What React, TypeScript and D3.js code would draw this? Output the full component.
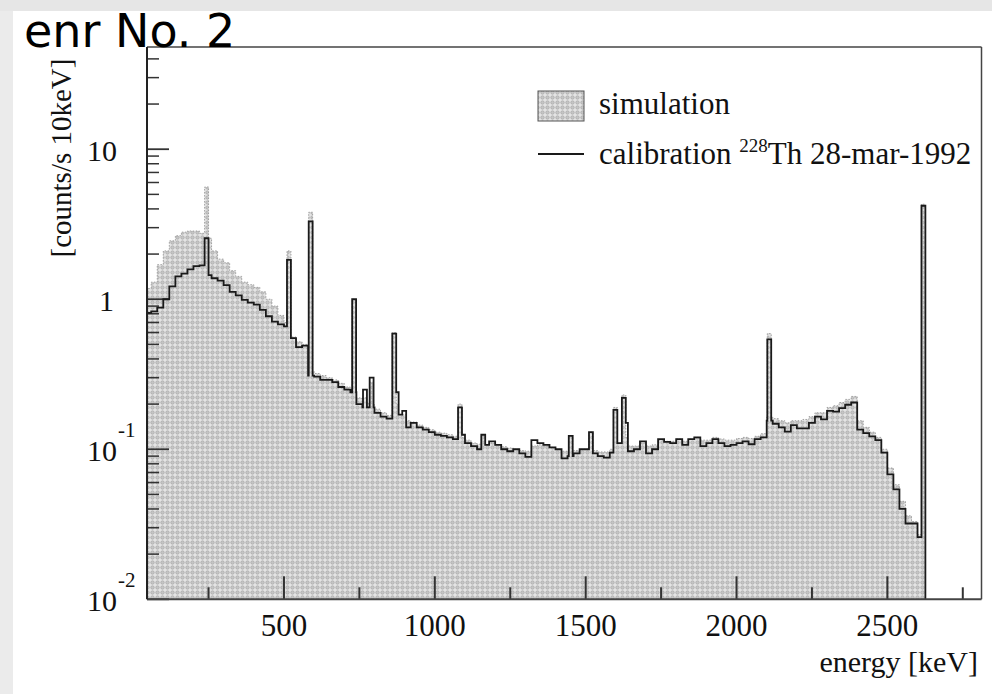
import React from "react";
import * as d3 from "d3";

// ---- data (counts/s per 10 keV), continuum in 20 keV bins starting at 40 keV ----
const binStart = 40;
const binWidth = 20;

const calibration: number[] = [
  0.81, 0.83, 0.88, 1.0, 1.22, 1.42, 1.48, 1.58, 1.66, 1.68,
  1.45, 1.38, 1.33, 1.24, 1.12, 1.06, 0.99, 0.95, 0.92, 0.85,
  0.77, 0.71, 0.68, 0.66, 0.55, 0.48, 0.49, 0.31, 0.305, 0.29,
  0.29, 0.28, 0.26, 0.25, 0.24, 0.2, 0.19, 0.19, 0.175, 0.165,
  0.16, 0.24, 0.17, 0.14, 0.15, 0.14, 0.135, 0.13, 0.125, 0.123,
  0.12, 0.117, 0.125, 0.11, 0.105, 0.1, 0.107, 0.113, 0.107, 0.1,
  0.097, 0.1, 0.094, 0.089, 0.115, 0.11, 0.107, 0.103, 0.1, 0.087,
  0.09, 0.094, 0.1, 0.1, 0.094, 0.09, 0.088, 0.095, 0.11, 0.15,
  0.097, 0.1, 0.113, 0.094, 0.1, 0.117, 0.112, 0.11, 0.117, 0.107,
  0.117, 0.12, 0.105, 0.11, 0.117, 0.11, 0.105, 0.107, 0.11, 0.113,
  0.108, 0.117, 0.12, 0.155, 0.148, 0.14, 0.131, 0.145, 0.138, 0.138,
  0.15, 0.165, 0.158, 0.18, 0.178, 0.188, 0.198, 0.205, 0.135, 0.128,
  0.122, 0.115, 0.095, 0.068, 0.054, 0.04, 0.032, 0.032, 0.026,
];

const simulation: number[] = [
  1.18, 1.3, 1.7, 2.1, 2.45, 2.65, 2.8, 2.85, 2.85, 2.75,
  2.55, 2.1, 1.85, 1.75, 1.55, 1.42, 1.3, 1.25, 1.2, 1.12,
  1.0, 0.9, 0.78, 0.7, 0.56, 0.52, 0.5, 0.33, 0.32, 0.31,
  0.3, 0.29, 0.275, 0.26, 0.25, 0.22, 0.205, 0.2, 0.185, 0.175,
  0.168, 0.2, 0.17, 0.155, 0.152, 0.145, 0.14, 0.135, 0.13, 0.128,
  0.125, 0.122, 0.12, 0.115, 0.11, 0.108, 0.107, 0.11, 0.107, 0.104,
  0.102, 0.1, 0.098, 0.097, 0.105, 0.107, 0.105, 0.103, 0.1, 0.097,
  0.097, 0.098, 0.1, 0.1, 0.098, 0.096, 0.096, 0.1, 0.11, 0.12,
  0.105, 0.105, 0.11, 0.105, 0.107, 0.115, 0.113, 0.113, 0.117, 0.113,
  0.117, 0.12, 0.115, 0.115, 0.12, 0.117, 0.115, 0.115, 0.118, 0.12,
  0.118, 0.122, 0.127, 0.165, 0.16, 0.155, 0.15, 0.155, 0.155, 0.158,
  0.165, 0.175, 0.175, 0.19, 0.195, 0.205, 0.215, 0.225, 0.155, 0.14,
  0.13, 0.12, 0.1, 0.075, 0.058, 0.045, 0.036, 0.033, 0.027,
];

// gamma lines (keV) and their peak bin heights
const peakEnergies = [238, 511, 583, 727, 763, 785, 860, 893, 1078, 1155, 1445, 1512, 1593, 1621, 2103, 2614];
const calibPeaks = [2.55, 1.83, 3.3, 1.0, 0.25, 0.3, 0.59, 0.18, 0.19, 0.125, 0.123, 0.13, 0.183, 0.22, 0.54, 4.2];
const simPeaks = [5.6, 2.1, 3.8, 1.0, 0.22, 0.28, 0.6, 0.17, 0.2, 0.125, 0.123, 0.13, 0.19, 0.23, 0.59, 4.3];
const peakWidth = 13;

const xMajorTicks = [500, 1000, 1500, 2000, 2500];
const xMinorTicks = [250, 750, 1250, 1750, 2250, 2750];
const yDecades = [0.01, 0.1, 1, 10];
const yLabelBase = ["10", "10", "1", "10"];
const yLabelExp = ["-2", "-1", "", ""];

const xDomain = [46, 2812];
const yDomain = [0.01, 48];

type Pt = { e: number; v: number };

function buildPoints(cont: number[], peaks: number[]): Pt[] {
  const edges = new Set<number>();
  cont.forEach((_, i) => {
    edges.add(binStart + i * binWidth);
    edges.add(binStart + (i + 1) * binWidth);
  });
  peakEnergies.forEach((e) => {
    edges.add(e - 1);
    edges.add(e - 1 + peakWidth);
  });
  const sorted = Array.from(edges).sort((a, b) => a - b);
  const pts: Pt[] = [];
  for (let k = 0; k < sorted.length - 1; k++) {
    const a = sorted[k];
    const b = sorted[k + 1];
    const mid = (a + b) / 2;
    const pi = peakEnergies.findIndex((e) => mid > e - 1 && mid < e - 1 + peakWidth);
    let v: number | null = null;
    if (pi >= 0) v = peaks[pi];
    else {
      const idx = Math.floor((mid - binStart) / binWidth);
      if (idx >= 0 && idx < cont.length) v = cont[idx];
    }
    if (v != null) {
      pts.push({ e: a, v });
      pts.push({ e: b, v });
    }
  }
  return pts;
}

export default function App() {
  const W = 992;
  const H = 694;
  const x = d3.scaleLinear().domain(xDomain).range([147, 981.5]);
  const y = d3.scaleLog().domain(yDomain).range([599.3, 47]);
  const [x0, x1] = x.range();
  const [yb, yt] = y.range();

  const simPts = buildPoints(simulation, simPeaks);
  const calPts = buildPoints(calibration, calibPeaks);
  const lastE = calPts[calPts.length - 1].e;
  const calLinePts = [...calPts, { e: lastE, v: yDomain[0] }];

  const area = d3
    .area<Pt>()
    .x((d) => x(d.e))
    .y0(yb)
    .y1((d) => y(d.v));
  const line = d3
    .line<Pt>()
    .x((d) => x(d.e))
    .y((d) => y(d.v));

  const yMinor: number[] = [];
  yDecades.forEach((d) => {
    for (let k = 2; k <= 9; k++) if (k * d <= yDomain[1]) yMinor.push(k * d);
  });

  const serif = "'Liberation Serif', 'Times New Roman', serif";

  return (
    <svg
      width={W}
      height={H}
      style={{ position: "fixed", left: 0, top: 0, background: "#fff" }}
      fontFamily={serif}
    >
      <defs>
        <pattern id="stip" width="5" height="5" patternUnits="userSpaceOnUse">
          <rect width="5" height="5" fill="#e4e4e4" />
          <circle cx="2.5" cy="2.5" r="1.7" fill="#c6c6c6" stroke="#a6a6a6" strokeWidth="0.7" />
        </pattern>
        <clipPath id="plotclip">
          <rect x={x0} y={yt} width={x1 - x0} height={yb - yt} />
        </clipPath>
      </defs>

      <rect x={0} y={0} width={W} height={H} fill="#fff" />
      <rect x={0} y={0} width={13} height={H} fill="#ebebeb" />
      <rect x={0} y={0} width={W} height={11} fill="#e6e6e6" />

      <g clipPath="url(#plotclip)">
        <path d={area(simPts) || ""} fill="url(#stip)" />
        <path
          d={line(simPts) || ""}
          fill="none"
          stroke="#a0a0a0"
          strokeWidth={1}
          strokeDasharray="1.5 1.5"
        />
      </g>

      {/* ticks */}
      {xMajorTicks.map((t) => (
        <line key={"xM" + t} x1={x(t)} x2={x(t)} y1={yb} y2={yb - 23} stroke="#333" strokeWidth={2} />
      ))}
      {xMinorTicks.map((t) => (
        <line key={"xm" + t} x1={x(t)} x2={x(t)} y1={yb} y2={yb - 12} stroke="#333" strokeWidth={2} />
      ))}
      {yDecades.map((t) => (
        <line key={"yM" + t} x1={x0} x2={x0 + 22} y1={y(t)} y2={y(t)} stroke="#333" strokeWidth={1.8} />
      ))}
      {yMinor.map((t) => (
        <line key={"ym" + t} x1={x0} x2={x0 + 12} y1={y(t)} y2={y(t)} stroke="#333" strokeWidth={1.5} />
      ))}

      <g clipPath="url(#plotclip)">
        <path
          d={line(calLinePts) || ""}
          fill="none"
          stroke="#1a1a1a"
          strokeWidth={1.8}
          strokeLinejoin="miter"
        />
      </g>

      {/* frame */}
      <line x1={x0} x2={x1} y1={yt} y2={yt} stroke="#444" strokeWidth={1.5} />
      <line x1={x1} x2={x1} y1={yt} y2={yb} stroke="#444" strokeWidth={1.5} />
      <line x1={x0} x2={x1} y1={yb} y2={yb} stroke="#444" strokeWidth={2} />
      <line x1={x0} x2={x0} y1={yt} y2={yb} stroke="#222" strokeWidth={2} />

      {/* x tick labels */}
      {xMajorTicks.map((t) => (
        <text key={"xl" + t} x={x(t)} y={636} textAnchor="middle" fontSize={31} fill="#111">
          {t}
        </text>
      ))}

      {/* y tick labels */}
      {yDecades.map((t, i) => (
        <g key={"yl" + t}>
          <text x={yLabelExp[i] || yLabelBase[i] === "10" ? 117 : 114} y={y(t) + 12} textAnchor="end" fontSize={30} fill="#111">
            {yLabelBase[i]}
          </text>
          {yLabelExp[i] && (
            <text x={118} y={y(t) - 12} fontSize={21} fill="#111">
              {yLabelExp[i]}
            </text>
          )}
        </g>
      ))}

      {/* axis titles */}
      <text x={978} y={672} textAnchor="end" fontSize={30} fill="#111">
        energy [keV]
      </text>
      <text
        transform="translate(71,158) rotate(-90)"
        textAnchor="middle"
        fontSize={29}
        fill="#111"
      >
        [counts/s 10keV]
      </text>

      {/* legend */}
      <rect x={538} y={91} width={46} height={30} fill="url(#stip)" stroke="#555" strokeWidth={1} />
      <text x={599} y={114} fontSize={31} fill="#111">
        simulation
      </text>
      <line x1={538} x2={584} y1={154} y2={154} stroke="#1a1a1a" strokeWidth={2} />
      <text x={599} y={164} fontSize={31} fill="#111">
        calibration{" "}
        <tspan fontSize={19} dy={-12}>
          228
        </tspan>
        <tspan dy={12}>Th 28-mar-1992</tspan>
      </text>

      {/* title */}
      <text x={24} y={47} fontFamily="'DejaVu Sans', sans-serif" fontSize={46} fill="#000">
        enr No. 2
      </text>
    </svg>
  );
}
